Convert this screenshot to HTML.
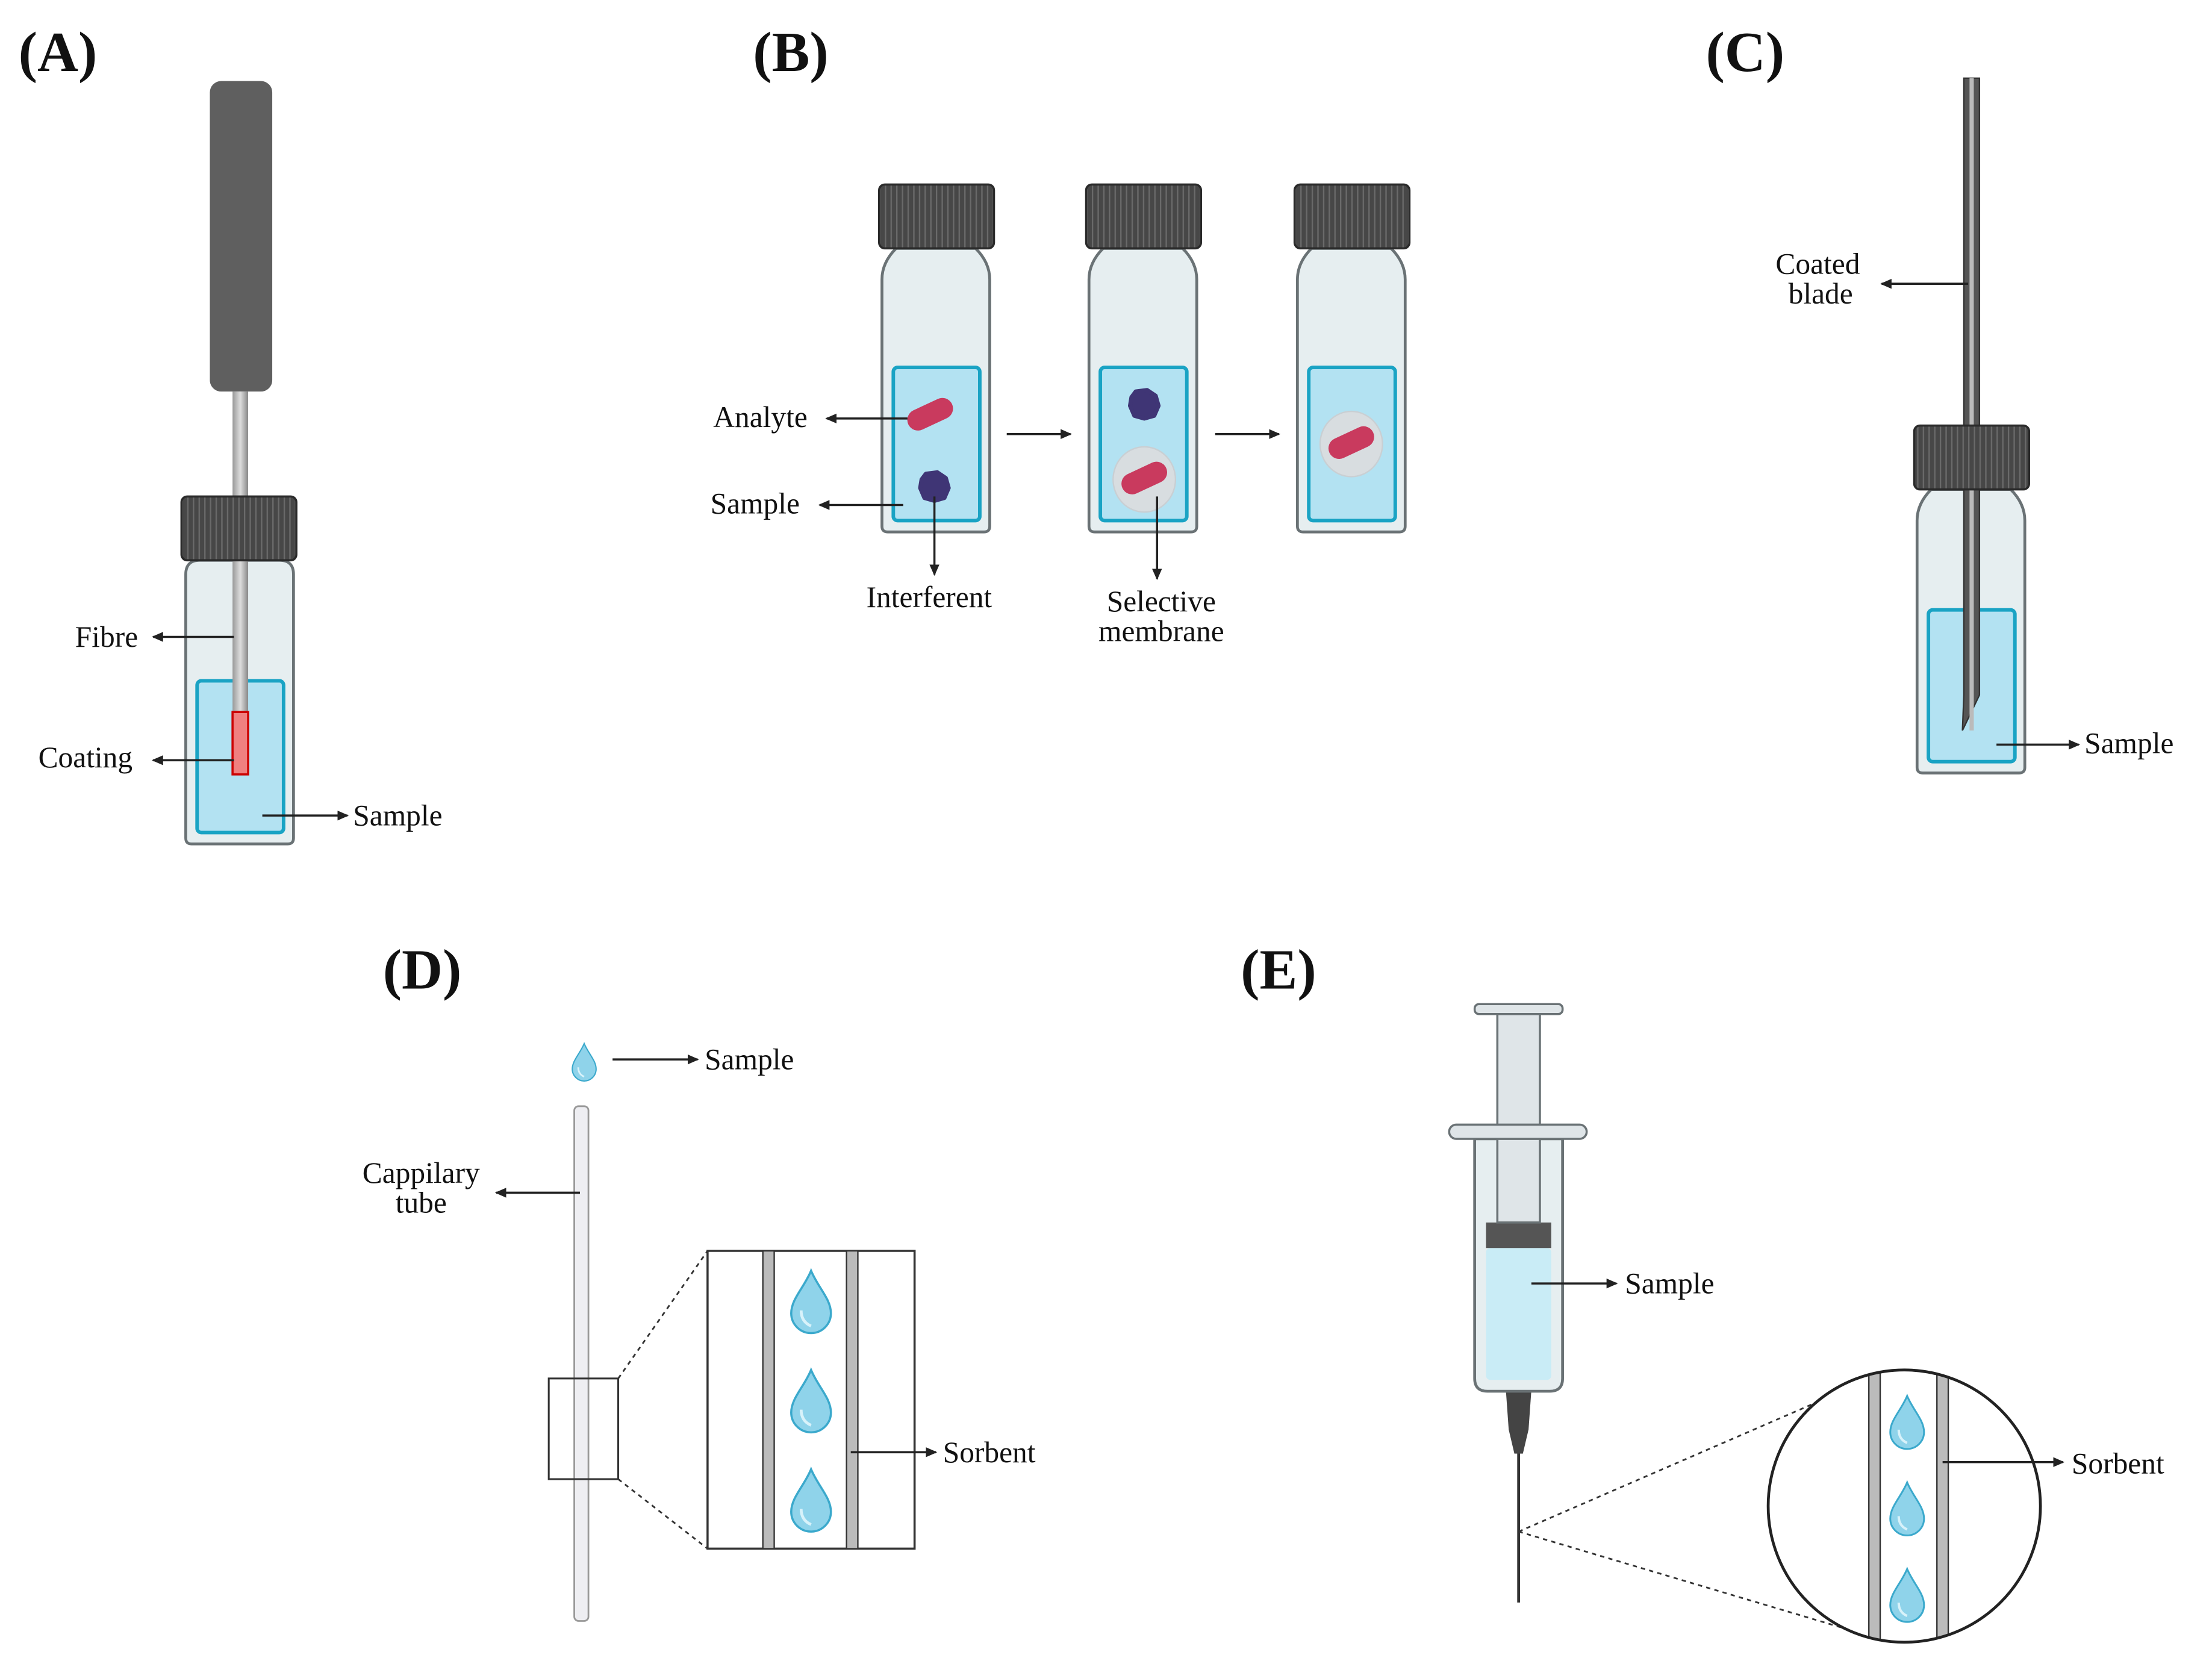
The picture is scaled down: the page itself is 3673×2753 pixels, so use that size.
<!DOCTYPE html>
<html><head><meta charset="utf-8"><style>html,body{margin:0;padding:0;background:#fff}svg{display:block}text{font-family:"Liberation Serif","DejaVu Serif",serif}</style></head><body>
<svg width="3673" height="2753" viewBox="0 0 1560 1169" xmlns="http://www.w3.org/2000/svg">
<defs>
<pattern id="st" width="4" height="10" patternUnits="userSpaceOnUse"><rect width="4" height="10" fill="#474747"/><rect x="0" width="1" height="10" fill="#6a6a6a"/></pattern>
<marker id="ar" markerWidth="8" markerHeight="8" refX="7" refY="4" orient="auto" markerUnits="userSpaceOnUse"><path d="M0,0.5 L8,4 L0,7.5Z" fill="#222"/></marker>
<linearGradient id="rod" x1="0" x2="1"><stop offset="0" stop-color="#999"/><stop offset="0.5" stop-color="#ddd"/><stop offset="1" stop-color="#888"/></linearGradient>
<g id="drop"><path d="M0,-22 C5,-10 14,-2 14,8 A14,14 0 0 1 -14,8 C-14,-2 -5,-10 0,-22Z" fill="#8fd3ea" stroke="#3ba9cc" stroke-width="1.5"/><path d="M-7,6 Q-7,14 0,17" stroke="#d8f2fa" stroke-width="2" fill="none"/></g>
<g id="pill"><rect x="-17" y="-7.5" width="34" height="15" rx="7.5" fill="#c93a5e"/></g>
<g id="blob"><path d="M-6,-9 L2,-10 L8,-6 L10,1 L7,8 L0,10 L-7,8 L-10,1 L-9,-5Z" fill="#3f3575" stroke="#3f3575" stroke-width="3" stroke-linejoin="round"/></g>
</defs>
<g font-weight="bold" font-size="40" fill="#111">
<text x="13" y="50">(A)</text><text x="531" y="50">(B)</text><text x="1203" y="50">(C)</text><text x="270" y="697">(D)</text><text x="875" y="697">(E)</text>
</g>
<g font-size="21" fill="#111">
<text x="53" y="456">Fibre</text><text x="27" y="541">Coating</text><text x="249" y="582">Sample</text>
<text x="503" y="301">Analyte</text><text x="501" y="362">Sample</text><text x="611" y="428">Interferent</text>
<text x="819" y="431" text-anchor="middle">Selective</text><text x="819" y="452" text-anchor="middle">membrane</text>
<text x="1282" y="193" text-anchor="middle">Coated</text><text x="1284" y="214" text-anchor="middle">blade</text><text x="1470" y="531">Sample</text>
<text x="497" y="754">Sample</text><text x="297" y="834" text-anchor="middle">Cappilary</text><text x="297" y="855" text-anchor="middle">tube</text><text x="665" y="1031">Sorbent</text>
<text x="1146" y="912">Sample</text><text x="1461" y="1039">Sorbent</text>
</g>
<!-- A -->
<rect x="148" y="57" width="44" height="219" rx="8" fill="#5f5f5f"/>
<path d="M131,405 Q131,395 141,395 L197,395 Q207,395 207,405 L207,591 Q207,595 203,595 L135,595 Q131,595 131,591Z" fill="#e6eef0" stroke="#6a7275" stroke-width="2"/>
<rect x="139" y="480" width="61" height="107" rx="3" fill="#b3e2f2" stroke="#1aa3c4" stroke-width="2.5"/>
<rect x="164" y="276" width="11" height="226" fill="url(#rod)"/>
<rect x="164" y="502" width="11" height="44" fill="#f08080" stroke="#c00" stroke-width="1.5"/>
<rect x="128" y="350" width="81" height="45" rx="4" fill="url(#st)" stroke="#2a2a2a" stroke-width="1.5"/>
<g stroke="#222" stroke-width="1.5" marker-end="url(#ar)">
<line x1="165" y1="449" x2="108" y2="449"/><line x1="165" y1="536" x2="108" y2="536"/><line x1="185" y1="575" x2="245" y2="575"/>
</g>
<!-- B vials -->
<g id="vB">
<path d="M632,175 L688,175 Q698,185 698,197 L698,371 Q698,375 694,375 L626,375 Q622,375 622,371 L622,197 Q622,185 632,175Z" fill="#e6eef0" stroke="#6a7275" stroke-width="2"/>
<rect x="630" y="259" width="61" height="108" rx="3" fill="#b3e2f2" stroke="#1aa3c4" stroke-width="2.5"/>
<rect x="620" y="130" width="81" height="45" rx="4" fill="url(#st)" stroke="#2a2a2a" stroke-width="1.5"/>
</g>
<use href="#vB" x="146"/><use href="#vB" x="293"/>
<use href="#pill" transform="translate(656,292) rotate(-25)"/>
<use href="#blob" transform="translate(659,343)"/>
<use href="#blob" transform="translate(807,285)"/>
<ellipse cx="807" cy="338" rx="22" ry="23" fill="#d8dde0" stroke="#c9cfd3"/>
<use href="#pill" transform="translate(807,337) rotate(-25)"/>
<ellipse cx="953" cy="313" rx="22" ry="23" fill="#d8dde0" stroke="#c9cfd3"/>
<use href="#pill" transform="translate(953,312) rotate(-25)"/>
<g stroke="#222" stroke-width="1.5" marker-end="url(#ar)">
<line x1="640" y1="295" x2="583" y2="295"/><line x1="637" y1="356" x2="578" y2="356"/><line x1="659" y1="350" x2="659" y2="405"/>
<line x1="816" y1="350" x2="816" y2="408"/><line x1="710" y1="306" x2="755" y2="306"/><line x1="857" y1="306" x2="902" y2="306"/>
</g>
<!-- C -->
<path d="M1362,345 L1418,345 Q1428,355 1428,367 L1428,541 Q1428,545 1424,545 L1356,545 Q1352,545 1352,541 L1352,367 Q1352,355 1362,345Z" fill="#e6eef0" stroke="#6a7275" stroke-width="2"/>
<rect x="1360" y="430" width="61" height="107" rx="3" fill="#b3e2f2" stroke="#1aa3c4" stroke-width="2.5"/>
<path d="M1385,55 L1396,55 L1396,490 L1384,515 L1385,490Z" fill="#555" stroke="#333" stroke-width="1"/>
<rect x="1389" y="55" width="3" height="460" fill="#bbb"/>
<rect x="1350" y="300" width="81" height="45" rx="4" fill="url(#st)" stroke="#2a2a2a" stroke-width="1.5"/>
<g stroke="#222" stroke-width="1.5" marker-end="url(#ar)">
<line x1="1388" y1="200" x2="1327" y2="200"/><line x1="1408" y1="525" x2="1466" y2="525"/>
</g>
<!-- D -->
<use href="#drop" transform="translate(412,749) scale(0.6)"/>
<rect x="405" y="780" width="10" height="363" rx="3" fill="#eeeef2" stroke="#999" stroke-width="1.2"/>
<rect x="387" y="972" width="49" height="71" fill="none" stroke="#333" stroke-width="1.3"/>
<g stroke="#333" stroke-width="1.2" stroke-dasharray="3,3"><line x1="436" y1="972" x2="499" y2="882"/><line x1="436" y1="1043" x2="499" y2="1092"/></g>
<rect x="499" y="882" width="146" height="210" fill="#fff" stroke="#333" stroke-width="1.5"/>
<rect x="538" y="882" width="8" height="210" fill="#bbb" stroke="#333" stroke-width="1"/>
<rect x="597" y="882" width="8" height="210" fill="#bbb" stroke="#333" stroke-width="1"/>
<use href="#drop" transform="translate(572,918)"/><use href="#drop" transform="translate(572,988)"/><use href="#drop" transform="translate(572,1058)"/>
<g stroke="#222" stroke-width="1.5" marker-end="url(#ar)">
<line x1="432" y1="747" x2="492" y2="747"/><line x1="409" y1="841" x2="350" y2="841"/><line x1="600" y1="1024" x2="660" y2="1024"/>
</g>
<!-- E -->
<line x1="1071" y1="1020" x2="1071" y2="1130" stroke="#333" stroke-width="2"/>
<path d="M1062,980 L1080,980 L1078,1008 L1074,1025 L1068,1025 L1064,1008Z" fill="#444"/>
<rect x="1040" y="708" width="62" height="7" rx="3" fill="#dfe5e8" stroke="#6a7275" stroke-width="1.5"/>
<rect x="1056" y="715" width="30" height="150" fill="#dfe5e8" stroke="#6a7275" stroke-width="1.5"/>
<path d="M1040,803 L1102,803 L1102,972 Q1102,981 1093,981 L1049,981 Q1040,981 1040,972Z" fill="#e6eef0" stroke="#6a7275" stroke-width="2"/>
<rect x="1048" y="880" width="46" height="93" rx="3" fill="#c9ecf6"/>
<rect x="1048" y="862" width="46" height="18" fill="#555"/>
<rect x="1056" y="803" width="30" height="59" fill="#dfe5e8" stroke="#6a7275" stroke-width="1.5"/>
<rect x="1022" y="793" width="97" height="10" rx="5" fill="#dfe5e8" stroke="#6a7275" stroke-width="1.5"/>
<g stroke="#333" stroke-width="1.2" stroke-dasharray="3,3"><line x1="1071" y1="1080" x2="1290" y2="985"/><line x1="1071" y1="1080" x2="1300" y2="1148"/></g>
<clipPath id="cc"><circle cx="1343" cy="1062" r="96"/></clipPath>
<circle cx="1343" cy="1062" r="96" fill="#fff"/>
<g clip-path="url(#cc)">
<rect x="1318" y="960" width="8" height="210" fill="#bbb" stroke="#333" stroke-width="1"/>
<rect x="1366" y="960" width="8" height="210" fill="#bbb" stroke="#333" stroke-width="1"/>
<use href="#drop" transform="translate(1345,1003) scale(0.85)"/><use href="#drop" transform="translate(1345,1064) scale(0.85)"/><use href="#drop" transform="translate(1345,1125) scale(0.85)"/>
</g>
<circle cx="1343" cy="1062" r="96" fill="none" stroke="#222" stroke-width="2"/>
<g stroke="#222" stroke-width="1.5" marker-end="url(#ar)">
<line x1="1080" y1="905" x2="1140" y2="905"/><line x1="1370" y1="1031" x2="1455" y2="1031"/>
</g>
</svg>
</body></html>
